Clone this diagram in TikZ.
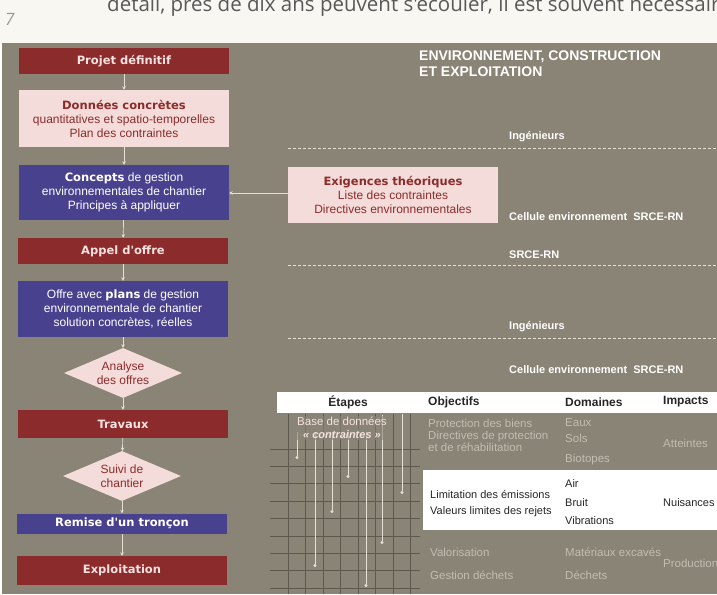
\documentclass[tikz,border=0pt]{standalone}
\usepackage{fontspec}
\setmainfont{Liberation Sans}
\newfontfamily\pagefont{Open Sans}
\newfontfamily\lourd{DejaVu Sans}
\usetikzlibrary{shapes.geometric,arrows.meta}

\definecolor{papier}{HTML}{F8F7F1}
\definecolor{fond}{HTML}{8A8476}
\definecolor{rouge}{HTML}{8C2B2B}
\definecolor{bleu}{HTML}{48428E}
\definecolor{rose}{HTML}{F4DCDA}
\definecolor{rosetxt}{HTML}{F6E2E0}
\definecolor{grille}{HTML}{5E594E}
\definecolor{pale}{HTML}{C2BDB2}
\definecolor{trait}{HTML}{E4E0D6}

\newcommand{\gras}{\lourd\bfseries\fontsize{11.5}{14}\selectfont}

\tikzset{
  rougebox/.style={fill=rouge, text=rosetxt, inner sep=0pt,
    minimum width=210pt, minimum height=26pt, font=\gras},
  bleubox/.style={fill=bleu, text=white, inner sep=0pt, align=center,
    minimum width=210pt, minimum height=56pt,
    font=\fontsize{12}{14}\selectfont},
  rosebox/.style={fill=rose, text=rouge, inner sep=0pt, align=center,
    minimum width=210pt, minimum height=56pt,
    font=\fontsize{12}{14}\selectfont},
  losange/.style={diamond, aspect=2.4, fill=rose, text=rouge, inner sep=0pt,
    align=center, minimum width=118pt, minimum height=50pt,
    font=\fontsize{12}{14}\selectfont},
  fleche/.style={draw=trait, line width=0.7pt, -{Stealth[length=3.5pt,width=3.5pt]}},
  role/.style={anchor=west, inner sep=0pt, text=white,
    font=\bfseries\fontsize{11}{12}\selectfont},
  tete/.style={inner sep=0pt, text=black!85, font=\bfseries\fontsize{12}{13}\selectfont},
  cel/.style={anchor=west, inner sep=0pt, text=pale, font=\fontsize{11.5}{12}\selectfont},
  celnoir/.style={anchor=west, inner sep=0pt, text=black!85,
    font=\fontsize{11}{12}\selectfont}
}

\begin{document}
\begin{tikzpicture}[x=1pt,y=-1pt]
  \useasboundingbox (0,0) rectangle (717,594);
  \clip (0,0) rectangle (717,594);

  % page et fond
  \fill[papier] (0,0) rectangle (717,43);
  \fill[fond] (2,43) rectangle (717,594);
  \node[anchor=base west, text=black!65, inner sep=0pt,
    font=\pagefont\fontsize{20.5}{24}\selectfont] (ligne) at (107,12)
    {détail, près de dix ans peuvent s'écouler, il est souvent nécessaire};
  \node[anchor=base west, text=black!40, inner sep=0pt,
    font=\pagefont\itshape\fontsize{17}{18}\selectfont] (num) at (5,26) {7};

  % colonne des etapes
  \node[rougebox] (projet) at (124,61) {Projet définitif};
  \node[rosebox, minimum height=57pt] (donnees) at (124,118.5)
    {{\gras Données concrètes}\\
     quantitatives et spatio-temporelles\\Plan des contraintes};
  \node[bleubox, minimum height=55pt] (concepts) at (124,192.5)
    {{\gras Concepts} de gestion\\
     environnementales de chantier\\Principes à appliquer};
  \node[rougebox] (appel) at (123,251) {Appel d'offre};
  \node[bleubox] (offre) at (123,309)
    {Offre avec {\gras plans} de gestion\\
     environnementale de chantier\\solution concrètes, réelles};
  \node[losange] (analyse) at (123,373) {Analyse\\des offres};
  \node[rougebox, minimum height=28pt] (travaux) at (123,424) {Travaux};
  \node[losange] (suivi) at (122,476) {Suivi de\\chantier};
  \node[bleubox, minimum height=20pt, font=\gras]
    (remise) at (122,523.5) {Remise d'un tronçon};
  \node[rougebox, minimum height=29pt] (exploit) at (122,570.5) {Exploitation};

  \draw[fleche] (projet) -- (donnees);
  \draw[fleche] (donnees) -- (concepts);
  \draw[fleche] (concepts) -- (appel);
  \draw[fleche] (appel) -- (offre);
  \draw[fleche] (offre) -- (analyse);
  \draw[fleche] (analyse) -- (travaux);
  \draw[fleche] (travaux) -- (suivi);
  \draw[fleche] (suivi) -- (remise);
  \draw[fleche] (remise) -- (exploit);

  % exigences
  \node[rosebox] (exig) at (393,195)
    {{\gras Exigences théoriques}\\
     Liste des contraintes\\Directives environnementales};
  \draw[fleche] (exig.west |- 0,193) -- (concepts.east |- 0,193);

  % acteurs
  \node[anchor=north west, text=white, inner sep=0pt, align=left,
    font=\bfseries\fontsize{14}{16}\selectfont] (titre) at (419,51)
    {ENVIRONNEMENT, CONSTRUCTION\\ET EXPLOITATION};
  \node[role] (ing1) at (509,137) {Ingénieurs};
  \node[role] (cel1) at (509,217) {Cellule environnement\ \ SRCE-RN};
  \node[role] (srce) at (509,255) {SRCE-RN};
  \node[role] (ing2) at (509,327) {Ingénieurs};
  \node[role] (cel2) at (509,370) {Cellule environnement\ \ SRCE-RN};
  \foreach \y in {148,265,338}
    \draw[trait, line width=0.7pt, dash pattern=on 3pt off 2pt] (288,\y) -- (717,\y);

  % tableau
  \fill[white] (277,392) rectangle (717,413);
  \fill[white] (423,470) rectangle (717,530);
  \node[tete] (h1) at (348,402) {Étapes};
  \node[tete, anchor=west] (h2) at (428,402) {Objectifs};
  \node[tete, anchor=west] (h3) at (565,402) {Domaines};
  \node[tete, anchor=west] (h4) at (663,402) {Impacts};

  % grille
  \foreach \i in {0,...,7}
    \draw[grille, line width=0.8pt] (288+17.5*\i,414) -- (288+17.5*\i,594);
  \foreach \i in {0,...,8}
    \draw[grille, line width=0.8pt] (270,449+17.4*\i) -- (420,449+17.4*\i);
  \foreach \x/\ya/\yb in {297/432/459, 315/432/567, 332/432/513, 348/432/478,
                         366/432/587, 382/415/544, 402/414/494}
    \draw[trait, line width=0.7pt, -{Circle[length=3pt]}] (\x,\ya) -- (\x,\yb);
  \node[text=rosetxt, align=center, inner sep=1pt, fill=fond, fill opacity=0.6,
    text opacity=1, font=\fontsize{11.5}{13}\selectfont] (base) at (342,428)
    {Base de données\\{\bfseries\itshape\fontsize{11}{12}\selectfont « contraintes »}};

  \node[cel] (o1) at (428,423) {Protection des biens};
  \node[cel, align=left, font=\fontsize{11.5}{9}\selectfont] (o2) at (428,441)
    {Directives de protection\\et de réhabilitation};
  \node[cel] (d1) at (565,423) {Eaux};
  \node[cel] (d2) at (565,438) {Sols};
  \node[cel] (d3) at (565,460) {Biotopes};
  \node[cel] (i1) at (663,443) {Atteintes};

  \node[celnoir] (o3) at (430,494) {Limitation des émissions};
  \node[celnoir] (o4) at (430,512) {Valeurs limites des rejets};
  \node[celnoir] (d4) at (565,484) {Air};
  \node[celnoir] (d5) at (565,503) {Bruit};
  \node[celnoir] (d6) at (565,521) {Vibrations};
  \node[celnoir] (i2) at (663,503) {Nuisances};

  \node[cel] (o5) at (430,552) {Valorisation};
  \node[cel] (o6) at (430,575) {Gestion déchets};
  \node[cel] (d7) at (565,552) {Matériaux excavés};
  \node[cel] (d8) at (565,575) {Déchets};
  \node[cel] (i3) at (663,563) {Production};
\end{tikzpicture}
\end{document}
